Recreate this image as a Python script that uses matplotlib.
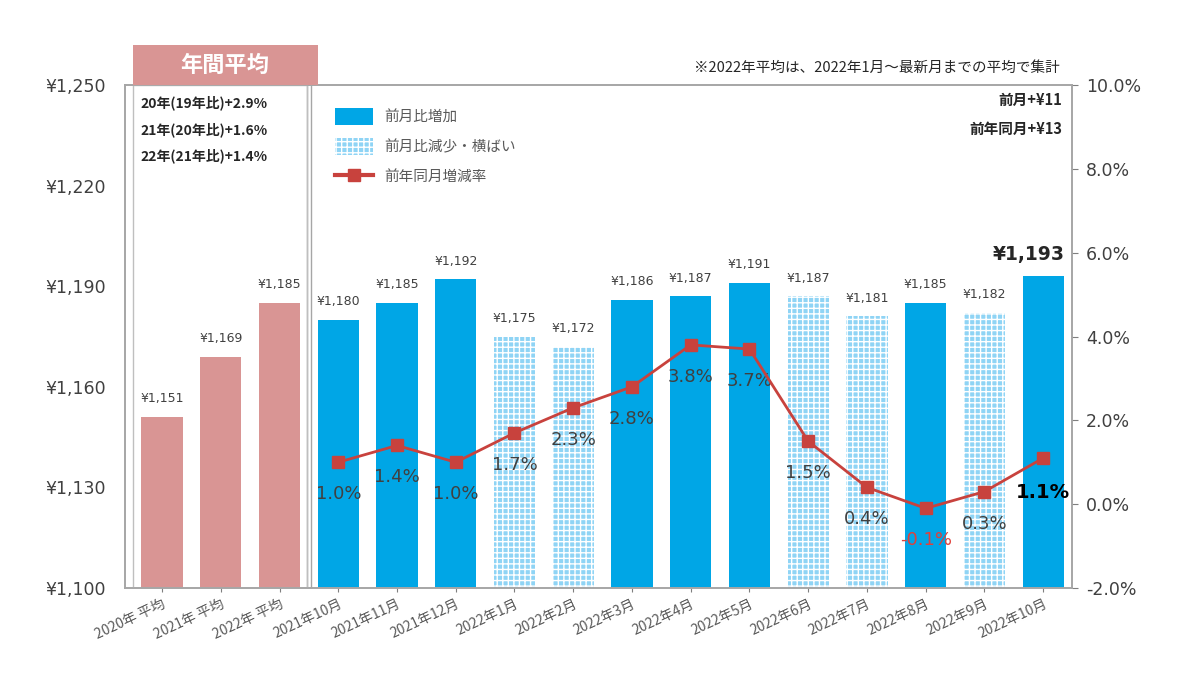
import numpy as np
import matplotlib.pyplot as plt
from matplotlib.patches import Rectangle, Patch
from matplotlib.lines import Line2D

plt.rcParams['font.family'] = ['Noto Sans CJK JP', 'DejaVu Sans']
plt.rcParams['hatch.linewidth'] = 1.0
NUM = ['DejaVu Sans']

labels = ['2020年 平均', '2021年 平均', '2022年 平均',
          '2021年10月', '2021年11月', '2021年12月',
          '2022年1月', '2022年2月', '2022年3月', '2022年4月', '2022年5月',
          '2022年6月', '2022年7月', '2022年8月', '2022年9月', '2022年10月']
prices = [1151, 1169, 1185,
          1180, 1185, 1192, 1175, 1172, 1186, 1187, 1191, 1187, 1181, 1185, 1182, 1193]
# 0 = annual avg, 1 = increase, 2 = decrease/flat
kinds = [0, 0, 0, 1, 1, 1, 2, 2, 1, 1, 1, 2, 2, 1, 2, 1]
yoy = [1.0, 1.4, 1.0, 1.7, 2.3, 2.8, 3.8, 3.7, 1.5, 0.4, -0.1, 0.3, 1.1]
annual_notes = ['20年(19年比)+2.9%', '21年(20年比)+1.6%', '22年(21年比)+1.4%']

c_avg = '#d99594'
c_up = '#00a6e6'
c_down = '#8fd4f5'
c_line = '#c8423d'
c_grey = '#7f7f7f'

fig = plt.figure(figsize=(12, 7), dpi=100)
ax = fig.add_axes([125 / 1200, 1 - 588 / 700, 947 / 1200, 503 / 700])
ax2 = ax.twinx()

x = np.arange(len(prices))
for i, (v, k) in enumerate(zip(prices, kinds)):
    if k == 0:
        ax.bar(i, v - 1100, bottom=1100, width=0.7, color=c_avg, zorder=2)
    elif k == 1:
        ax.bar(i, v - 1100, bottom=1100, width=0.7, color=c_up, zorder=2)
    else:
        ax.bar(i, v - 1100, bottom=1100, width=0.7, facecolor=c_down,
               edgecolor='white', hatch='+++', linewidth=0, zorder=2)
    if i == len(prices) - 1:
        ax.text(i - 0.25, v + 3.5, f'¥{v:,}', ha='center', va='bottom', fontsize=13.5,
                fontweight='bold', color='#262626', family=NUM)
    else:
        ax.text(i, v + 3.5, f'¥{v:,}', ha='center', va='bottom', fontsize=9,
                color='#404040', family=NUM)

ax.set_xlim(-0.63, 15.49)
ax.set_ylim(1100, 1250)
ax.set_yticks([1100, 1130, 1160, 1190, 1220, 1250])
ax.set_yticklabels([f'¥{v:,}' for v in [1100, 1130, 1160, 1190, 1220, 1250]],
                   fontsize=12.5, color='#404040', family=NUM)
ax.set_xticks(x)
ax.set_xticklabels(labels, rotation=25, ha='right', rotation_mode='anchor',
                   fontsize=10, color='#595959')
ax.tick_params(axis='x', length=3, color=c_grey)
ax.tick_params(axis='y', length=0, pad=14)

mx = x[3:]
ax2.plot(mx, yoy, color=c_line, lw=2, marker='s', ms=8, zorder=5)
ax2.set_ylim(-2, 10)
ax2.set_yticks([-2, 0, 2, 4, 6, 8, 10])
ax2.set_yticklabels([f'{v:.1f}%' for v in [-2, 0, 2, 4, 6, 8, 10]],
                    fontsize=12.5, color='#404040', family=NUM)
ax2.tick_params(axis='y', length=4, color=c_grey, pad=6)
for xi, v in zip(mx, yoy):
    if xi == mx[-1]:
        ax2.annotate(f'{v:.1f}%', (xi, v), xytext=(0, -25), textcoords='offset points',
                     ha='center', va='center', fontsize=14, fontweight='bold',
                     color='black', family=NUM)
    else:
        col = '#e0403a' if v < 0 else '#404040'
        ax2.annotate(f'{v:.1f}%', (xi, v), xytext=(0, -23), textcoords='offset points',
                     ha='center', va='center', fontsize=13, color=col, family=NUM)

for a in (ax, ax2):
    for s in a.spines.values():
        s.set_color('#a6a6a6')
        s.set_linewidth(1.2)
ax.set_zorder(ax2.get_zorder() - 1)
ax2.patch.set_visible(False)

# separator between annual and monthly sections
for xs in (2.47, 2.53):
    ax.axvline(xs, color='#a6a6a6', lw=1.0, zorder=3)
ax.add_patch(Rectangle((-0.49, 1100), 2.96, 150, fill=False, edgecolor='#bfbfbf',
                       lw=1.0, zorder=3))

# header box above annual section
hdr = Rectangle((133 / 1200, 1 - 85 / 700), 185 / 1200, 40 / 700, transform=fig.transFigure,
                facecolor=c_avg, edgecolor='none')
fig.patches.append(hdr)
fig.text(225 / 1200, 1 - 65 / 700, '年間平均', ha='center', va='center', fontsize=16,
         fontweight='bold', color='white')

for j, t in enumerate(annual_notes):
    fig.text(140 / 1200, 1 - (103 + 26.5 * j) / 700, t, ha='left', va='center',
             fontsize=10, fontweight='bold', color='#262626')

fig.text(1060 / 1200, 1 - 68 / 700, '※2022年平均は、2022年1月～最新月までの平均で集計',
         ha='right', va='center', fontsize=10.5, color='#262626')
fig.text(1062 / 1200, 1 - 100 / 700, '前月+¥11', ha='right', va='center',
         fontsize=10.5, fontweight='bold', color='#262626')
fig.text(1062 / 1200, 1 - 129 / 700, '前年同月+¥13', ha='right', va='center',
         fontsize=10.5, fontweight='bold', color='#262626')

handles = [Patch(facecolor=c_up, edgecolor='none'),
           Patch(facecolor=c_down, edgecolor='white', hatch='+++', linewidth=0),
           Line2D([0], [0], color=c_line, lw=3, marker='s', ms=9)]
leg = ax.legend(handles, ['前月比増加', '前月比減少・横ばい', '前年同月増減率'],
                loc='upper left', bbox_to_anchor=(0.208, 0.98), frameon=False,
                fontsize=10.5, labelcolor='#595959', handlelength=2.6,
                handleheight=1.4, labelspacing=0.9)
leg.set_zorder(10)

fig.savefig('out.png', dpi=100)
